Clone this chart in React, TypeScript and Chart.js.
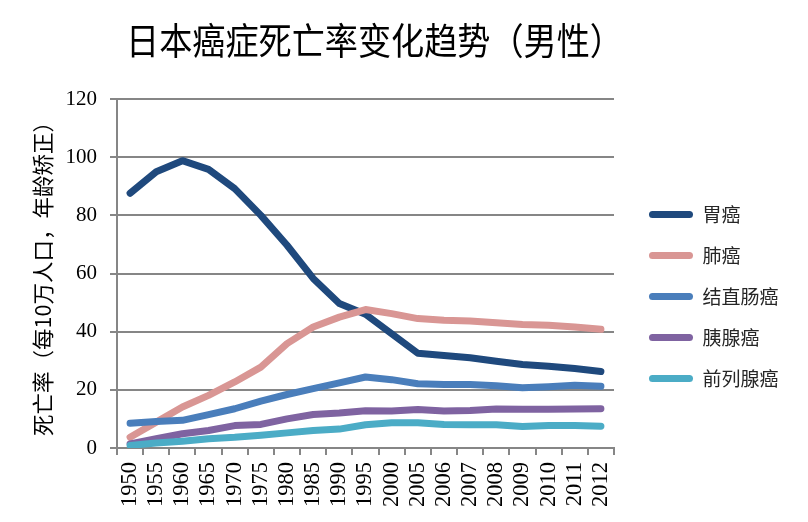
import React, { useEffect, useRef } from "react";
import { Chart, registerables } from "chart.js";

Chart.register(...registerables);

const years = [
  "1950", "1955", "1960", "1965", "1970", "1975", "1980", "1985", "1990", "1995",
  "2000", "2005", "2006", "2007", "2008", "2009", "2010", "2011", "2012",
];

const stomach = [87.6, 95.0, 98.8, 95.8, 89.2, 80.0, 69.7, 58.3, 49.7, 46.0, 39.3, 32.6, 31.8, 31.0, 29.8, 28.7, 28.1, 27.3, 26.3];
const lung = [3.7, 8.9, 14.1, 18.1, 22.7, 27.8, 35.9, 41.6, 45.0, 47.6, 46.2, 44.5, 43.9, 43.7, 43.1, 42.5, 42.2, 41.6, 40.8];
const colorectal = [8.5, 9.1, 9.5, 11.5, 13.5, 16.1, 18.4, 20.4, 22.4, 24.4, 23.5, 22.1, 21.8, 21.8, 21.4, 20.7, 21.1, 21.6, 21.2];
const pancreas = [1.4, 3.2, 4.9, 6.0, 7.7, 8.1, 10.0, 11.5, 12.0, 12.8, 12.7, 13.2, 12.7, 12.9, 13.4, 13.3, 13.3, 13.4, 13.5];
const prostate = [0.9, 1.7, 2.3, 3.2, 3.7, 4.4, 5.2, 6.0, 6.5, 8.0, 8.7, 8.7, 8.1, 8.0, 8.0, 7.4, 7.7, 7.7, 7.5];

const seriesNames = ["胃癌", "肺癌", "结直肠癌", "胰腺癌", "前列腺癌"];
const seriesColors = ["#1F497D", "#D99694", "#4A7EBB", "#7F63A1", "#4BACC6"];
const seriesValues = [stomach, lung, colorectal, pancreas, prostate];

const yTicks = [0, 20, 40, 60, 80, 100, 120];

const title = "日本癌症死亡率变化趋势（男性）";
const yTitle = "死亡率（每10万人口，年龄矫正）";

const CJK = "'Noto Sans CJK SC', 'Noto Sans', sans-serif";
const SERIF = "'Liberation Serif', 'DejaVu Serif', serif";
const GRID = "#868686";

const shiftPlugin = {
  id: "shiftBlocks",
  afterLayout(chart: any) {
    const l = chart.legend;
    if (l) {
      l.left += 13;
      l.right += 13;
      l.top += 23;
      l.bottom += 23;
    }
    const t = chart.titleBlock;
    if (t) {
      t.left += 9;
      t.right += 9;
    }
  },
};

export default function App() {
  const ref = useRef<HTMLCanvasElement | null>(null);

  useEffect(() => {
    document.body.style.margin = "0";
    if (!ref.current) return;
    const n = seriesValues.length;
    const chart = new Chart(ref.current, {
      type: "line",
      data: {
        labels: years,
        datasets: seriesValues.map((vals, i) => ({
          label: seriesNames[i],
          data: vals,
          borderColor: seriesColors[i],
          backgroundColor: seriesColors[i],
          borderWidth: 7,
          borderCapStyle: "round" as const,
          borderJoinStyle: "round" as const,
          pointRadius: 0,
          pointHoverRadius: 0,
          tension: 0,
          fill: false,
          order: n - 1 - i,
        })),
      },
      options: {
        responsive: false,
        animation: false,
        events: [],
        layout: { padding: { left: 0, right: 32.5, top: 0, bottom: 0 } },
        plugins: {
          tooltip: { enabled: false },
          title: {
            display: true,
            text: title,
            fullSize: false,
            color: "#000",
            font: { family: CJK, size: 37, weight: "normal" as any, lineHeight: 1.2 },
            padding: { top: 19, bottom: 35.6 },
          },
          legend: {
            display: true,
            position: "right",
            fullSize: false,
            align: "center",
            labels: {
              color: "#262626",
              font: { family: CJK, size: 19 },
              boxWidth: 44,
              boxHeight: 7,
              padding: 22,
              useBorderRadius: true,
              sort: (a: any, b: any) => a.datasetIndex - b.datasetIndex,
              generateLabels: (chart: any) => {
                const items = Chart.defaults.plugins.legend.labels.generateLabels(chart);
                return items.map((it: any) => ({
                  ...it,
                  fillStyle: seriesColors[it.datasetIndex],
                  strokeStyle: seriesColors[it.datasetIndex],
                  lineWidth: 0,
                  borderRadius: 3.5,
                }));
              },
            },
          },
        },
        scales: {
          x: {
            type: "category",
            offset: true,
            afterFit: (s: any) => {
              s.height = 74;
            },
            grid: {
              display: true,
              drawOnChartArea: false,
              drawTicks: true,
              tickLength: 7,
              offset: true,
              color: GRID,
              lineWidth: 2,
            },
            border: { display: true, color: GRID, width: 2 },
            ticks: {
              autoSkip: false,
              maxRotation: 90,
              minRotation: 90,
              padding: 7,
              color: "#000",
              font: { family: SERIF, size: 22.5 },
            },
          },
          y: {
            min: 0,
            max: 120,
            afterFit: (s: any) => {
              s.width = 117;
            },
            afterBuildTicks: (s: any) => {
              s.ticks = yTicks.map((v) => ({ value: v }));
            },
            grid: {
              display: true,
              drawOnChartArea: true,
              drawTicks: true,
              tickLength: 7,
              color: GRID,
              lineWidth: 2,
            },
            border: { display: true, color: GRID, width: 2 },
            ticks: {
              padding: 13,
              color: "#000",
              font: { family: SERIF, size: 21 },
            },
            title: {
              display: true,
              text: yTitle,
              color: "#000",
              font: { family: CJK, size: 21.5 },
              padding: { top: 30, bottom: 0 },
            },
          },
        },
      },
      plugins: [shiftPlugin],
    });
    return () => chart.destroy();
  }, []);

  return (
    <div style={{ position: "absolute", left: 0, top: 0, width: 808, height: 522, background: "#fff" }}>
      <canvas ref={ref} width={808} height={522} />
    </div>
  );
}
